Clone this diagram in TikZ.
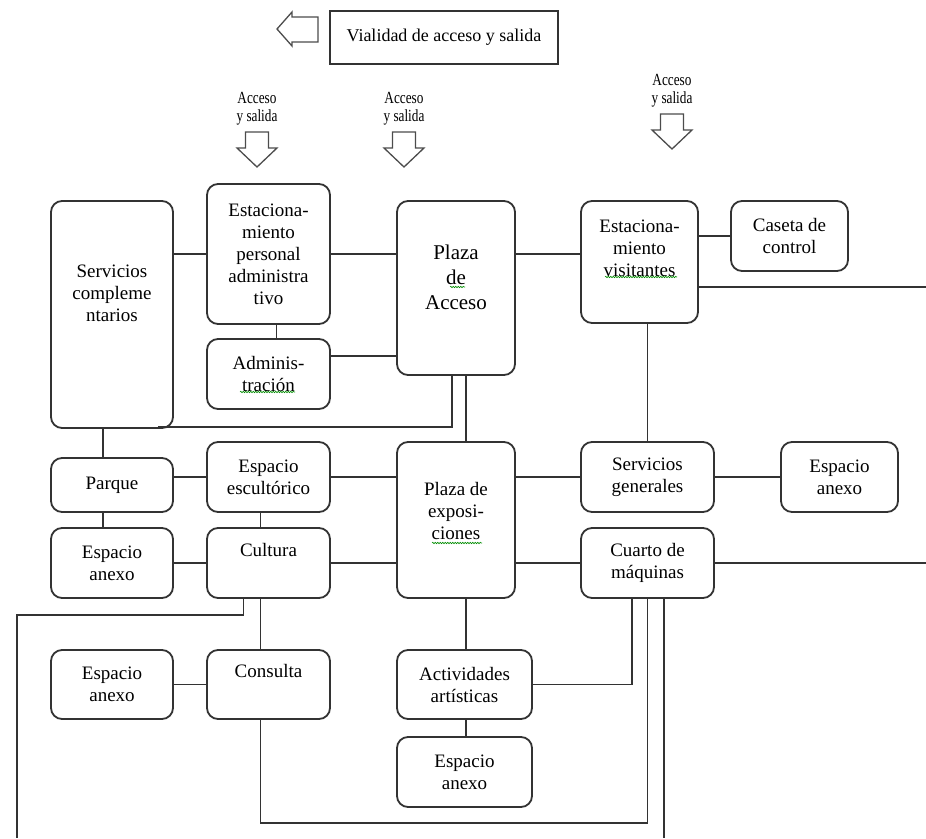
\documentclass[tikz,border=0pt]{standalone}
\usepackage{fontspec}
\setmainfont{Liberation Serif}
\newfontfamily\narrowfont[FakeStretch=0.78]{Liberation Serif}
\usetikzlibrary{decorations.pathmorphing}

\begin{document}
\begin{tikzpicture}[x=1pt,y=-1pt,line width=1.8pt,
    room/.style={draw=black!80, line width=1.8pt, rounded corners=11pt, inner sep=0pt,
        align=center, font=\fontsize{19}{22}\selectfont},
    tag/.style={align=center, font=\fontsize{19}{22}\selectfont},
    wire/.style={draw=black!80, line width=1.8pt},
    hollow/.style={draw=black!70, line width=1.3pt, fill=white},
    squig/.style={green!55!black, line width=0.6pt, decorate,
        decoration={snake, amplitude=0.7pt, segment length=2.5pt}}]
    \useasboundingbox (0,0) rectangle (926,838);

    \node[draw=black!80, line width=1.4pt, minimum width=228pt, minimum height=53pt,
        font=\fontsize{18}{22}\selectfont] (vial) at (444,37.5) {Vialidad de acceso y salida};
    \draw[hollow] (318,17) -- (292,17) -- (292,12) -- (277,29) -- (292,46) -- (292,42) -- (318,42) -- cycle;

    \foreach \cx/\ty [count=\i] in {257/132, 404/132, 672/114}
    {
        \draw[hollow] (\cx-11.5,\ty) -- (\cx+11.5,\ty) -- (\cx+11.5,\ty+16) -- (\cx+20,\ty+16)
            -- (\cx,\ty+35) -- (\cx-20,\ty+16) -- (\cx-11.5,\ty+16) -- cycle;
        \node[font={\fontsize{17}{18}\narrowfont}, align=center] (acc\i) at (\cx,\ty-23) {Acceso\\y salida};
    }

    \node[room, minimum width=122pt, minimum height=227pt,
        label={[tag,yshift=21pt]center:Servicios\\compleme\\ntarios}] (sc) at (112,314.5) {};
    \node[room, minimum width=123pt, minimum height=140pt] (ep) at (268.5,254) {Estaciona-\\miento\\personal\\administra\\tivo};
    \node[room, minimum width=123pt, minimum height=70pt] (adm) at (268.5,374) {Adminis-\\tración};
    \node[room, minimum width=118pt, minimum height=174pt,
        label={[tag,yshift=11pt,font=\fontsize{21}{25}\selectfont]center:Plaza\\de\\Acceso}] (pa) at (456,288) {};
    \node[room, minimum width=117pt, minimum height=122pt,
        label={[tag,yshift=14pt]center:Estaciona-\\miento\\visitantes}] (ev) at (639.5,262) {};
    \node[room, minimum width=117pt, minimum height=70pt] (cc) at (789.5,236) {Caseta de\\control};

    \node[room, minimum width=122pt, minimum height=54pt] (pq) at (112,485) {Parque};
    \node[room, minimum width=123pt, minimum height=70pt] (ee) at (268.5,477) {Espacio\\escultórico};
    \node[room, minimum width=122pt, minimum height=70pt] (an1) at (112,563) {Espacio\\anexo};
    \node[room, minimum width=123pt, minimum height=70pt,
        label={[tag,yshift=13pt]center:Cultura}] (cu) at (268.5,563) {};
    \node[room, minimum width=118pt, minimum height=156pt,
        label={[tag,yshift=9pt]center:Plaza de\\exposi-\\ciones}] (pe) at (456,520) {};
    \node[room, minimum width=133pt, minimum height=70pt] (sg) at (647.5,477) {Servicios\\generales};
    \node[room, minimum width=117pt, minimum height=70pt] (an4) at (839.5,477) {Espacio\\anexo};
    \node[room, minimum width=133pt, minimum height=70pt] (cm) at (647.5,563) {Cuarto de\\máquinas};

    \node[room, minimum width=122pt, minimum height=69pt] (an2) at (112,684.5) {Espacio\\anexo};
    \node[room, minimum width=123pt, minimum height=69pt,
        label={[tag,yshift=14pt]center:Consulta}] (con) at (268.5,684.5) {};
    \node[room, minimum width=135pt, minimum height=69pt] (act) at (464.5,684.5) {Actividades\\artísticas};
    \node[room, minimum width=135pt, minimum height=70pt] (an3) at (464.5,772) {Espacio\\anexo};

    \coordinate (edgeR1) at (926,287);
    \coordinate (edgeR2) at (926,563);
    \coordinate (edgeB1) at (17,838);
    \coordinate (edgeB2) at (664,838);

    % upper block
    \draw[wire] (ep.west) -- (ep.west -| sc.east);
    \draw[wire] (ep.east) -- (ep.east -| pa.west);
    \draw[wire] (ep.east -| pa.east) -- (ep.east -| ev.west);
    \draw[wire] (cc.west) -- (cc.west -| ev.east);
    \draw[wire] (edgeR1 -| ev.east) -- (edgeR1);
    \draw[wire] ([xshift=8pt]ep.south) -- ([xshift=8pt]adm.north);
    \draw[wire] ([yshift=18pt]adm.east) -- ([yshift=18pt]adm.east -| pa.west);
    \draw[wire] ([xshift=-16pt,yshift=2pt]sc.south east) -| ([xshift=-4pt]pa.south);
    \draw[wire] ([xshift=10pt]pa.south) -- ([xshift=10pt]pe.north);
    \draw[wire] (sg.north) -- (sg.north |- ev.south);

    % middle block
    \draw[wire] ([xshift=-9pt]sc.south) -- ([xshift=-9pt]pq.north);
    \draw[wire] ([xshift=-9pt]pq.south) -- ([xshift=-9pt]an1.north);
    \draw[wire] (pq.east |- ee.west) -- (ee.west);
    \draw[wire] ([xshift=-8pt]ee.south) -- ([xshift=-8pt]cu.north);
    \draw[wire] (an1.east) -- (cu.west);
    \draw[wire] (ee.east) -- (ee.east -| pe.west);
    \draw[wire] (cu.east) -- (cu.east -| pe.west);
    \draw[wire] (pe.east |- sg.west) -- (sg.west);
    \draw[wire] (sg.east) -- (an4.west);
    \draw[wire] (pe.east |- cm.west) -- (cm.west);
    \draw[wire] (cm.east) -- (edgeR2);

    % lower block
    \draw[wire] ([xshift=-25pt]cu.south) -- ++(0,16) -| (edgeB1);
    \draw[wire] ([xshift=-8pt]cu.south) -- ([xshift=-8pt]con.north);
    \draw[wire] (an2.east) -- (con.west);
    \draw[wire] ([xshift=-8pt]con.south) |- (cm.south |- 0,823) -- (cm.south);
    \draw[wire] ([xshift=10pt]pe.south) -- ([xshift=10pt]pe.south |- act.north);
    \draw[wire] ([xshift=1.5pt]act.south) -- ([xshift=1.5pt]an3.north);
    \draw[wire] (act.east) -| ([xshift=-15.5pt]cm.south);
    \draw[wire] ([xshift=16.5pt]cm.south) -- (edgeB2);

    \draw[squig] (450,287) -- (465,287);
    \draw[squig] (605,277) -- (677,277);
    \draw[squig] (240,392) -- (295,392);
    \draw[squig] (432,543) -- (482,543);
\end{tikzpicture}
\end{document}
